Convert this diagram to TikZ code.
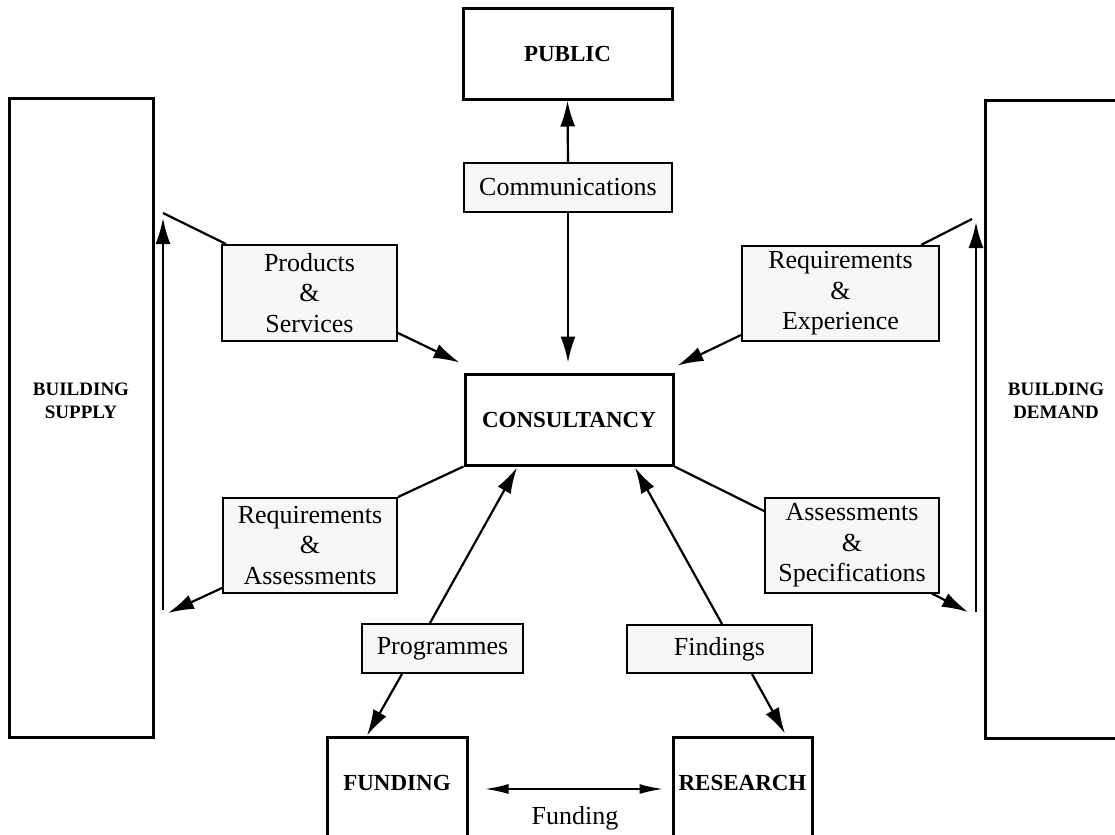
\documentclass[tikz,border=0pt]{standalone}
\usepackage{fontspec}
\setmainfont{Liberation Serif}
\usetikzlibrary{arrows.meta,calc}
\begin{document}
\begin{tikzpicture}[x=0.5pt,y=-0.5pt,
  mainbox/.style={draw, line width=1.5pt, inner sep=0pt},
  lbl/.style={draw, line width=1pt, fill=black!3, align=center, inner sep=0pt, font=\fontsize{13}{15.3}\selectfont},
  bigtxt/.style={font=\fontsize{11.5}{13}\selectfont\bfseries},
  smalltxt/.style={font=\fontsize{9.5}{11.5}\selectfont\bfseries, align=center},
  conn/.style={line width=1.1pt},
  arr/.style={conn, -{Latex[length=13pt,width=7.5pt]}},
  farr/.style={line width=1.1pt, {Latex[length=12pt,width=5pt]}-{Latex[length=12pt,width=5pt]}}]
\clip (0,0) rectangle (1115,835);
\fill[white] (0,0) rectangle (1115,835);
% main boxes
\node[mainbox, bigtxt, minimum width=104.5pt, minimum height=45.5pt] (public) at (567.5,53.5) {PUBLIC};
\node[mainbox, bigtxt, minimum width=104pt, minimum height=45.5pt] (consult) at (569,419.5) {CONSULTANCY};
\node[mainbox, minimum width=72pt, minimum height=319.5pt] (supply) at (81,417.5) {};
\node[smalltxt] (supplytxt) at (81,401) {BUILDING\\SUPPLY};
\node[mainbox, minimum width=70pt, minimum height=319pt] (demand) at (1055,419) {};
\node[smalltxt] (demandtxt) at (1056,401) {BUILDING\\DEMAND};
\node[mainbox, minimum width=70pt, minimum height=54pt] (funding) at (397,791) {};
\node[bigtxt] (fundingtxt) at (397,783) {FUNDING};
\node[mainbox, minimum width=69.5pt, minimum height=54pt] (research) at (742.5,791) {};
\node[bigtxt] (researchtxt) at (742.5,783) {RESEARCH};
% label boxes
\node[lbl, minimum width=104pt, minimum height=24.5pt] (comm) at (568,187.5) {Communications};
\node[lbl, minimum width=87.5pt, minimum height=48pt] (PS) at (309.5,293) {Products\\\&\\Services};
\node[lbl, minimum width=98.5pt, minimum height=47.5pt] (RE) at (840.5,293.5) {Requirements\\\&\\Experience};
\node[lbl, minimum width=87pt, minimum height=47.5pt] (RA) at (310,545.5) {Requirements\\\&\\Assessments};
\node[lbl, minimum width=87pt, minimum height=47.5pt] (AS) at (852,545.5) {Assessments\\\&\\Specifications};
\node[lbl, minimum width=80.5pt, minimum height=24.5pt] (prog) at (442.5,648.5) {Programmes};
\node[lbl, minimum width=92.5pt, minimum height=24pt] (find) at (719.5,649) {Findings};
\node[font=\fontsize{13}{15.3}\selectfont] (fundlbl) at (575,818) {Funding};
% coordinates
\coordinate (sA) at (163,213);
\coordinate (sT) at (163,218);
\coordinate (sB) at (163,610);
\coordinate (sC) at (168,613);
\coordinate (dA) at (972,219);
\coordinate (dT) at (976,222);
\coordinate (dB) at (976,612);
\coordinate (dC) at (968,612);
% connectors
\draw[conn] (sA) -- ($(PS.north west)+(5,0)$);
\draw[arr] ($(PS.south east)+(0,-9)$) -- ($(consult.north west)+(-4,-10)$);
\draw[arr] (sB) -- (sT);
\draw[conn] (consult.south west) -- (RA.north east);
\draw[arr] ($(RA.south west)+(0,-6)$) -- (sC);
\draw[conn] (dA) -- ($(RE.north east)+(-19,0)$);
\draw[arr] ($(RE.south west)+(0,-7)$) -- ($(consult.north east)+(3,-7)$);
\draw[arr] (dB) -- (dT);
\draw[conn] (consult.south east) -- ($(AS.north west)+(0,14)$);
\draw[arr] ($(AS.south east)+(-9,-1)$) -- (dC);
\draw[arr] (comm.north) -- (public.south);
\draw[arr, shorten >=5pt] (comm.south) -- (comm.south |- consult.north);
\draw[arr] ($(prog.north)+(-12.5,0)$) -- ($(consult.south)+(-52,1)$);
\draw[arr] ($(prog.south)+(-40.5,0)$) -- ($(funding.north)+(-30,0)$);
\draw[arr] ($(find.north)+(2.5,0)$) -- ($(consult.south)+(66,1)$);
\draw[arr] ($(find.south)+(32.5,0)$) -- ($(research.north)+(42.5,-2)$);
\draw[farr] ($(funding.east)+(16,-2)$) -- ($(research.west)+(-8,-2)$);
\end{tikzpicture}
\end{document}
